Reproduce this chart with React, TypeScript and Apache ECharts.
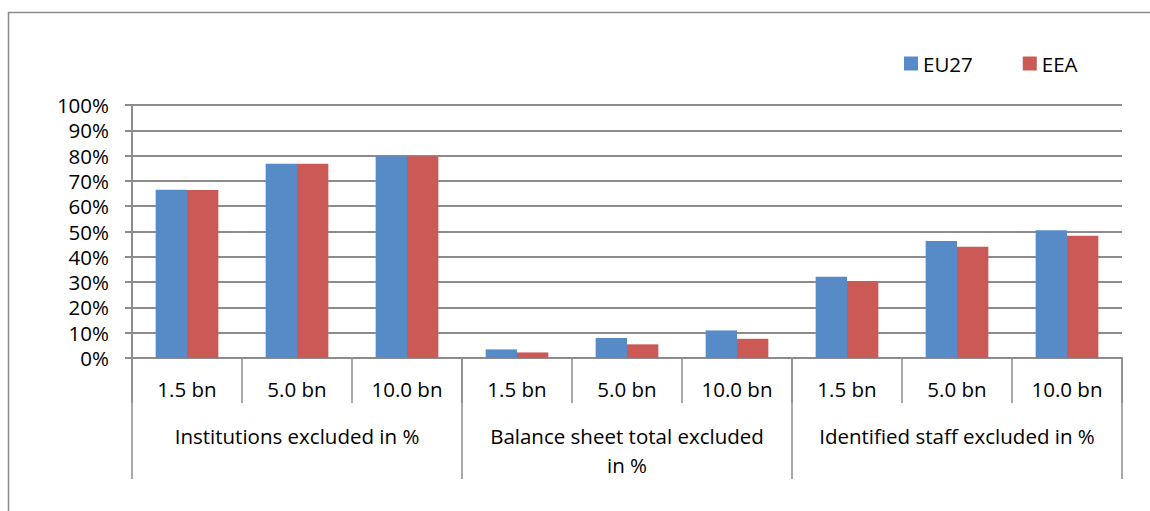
import React, { useEffect, useRef } from "react";
import * as echarts from "echarts";

const subCategories = [
  "1.5 bn", "5.0 bn", "10.0 bn",
  "1.5 bn", "5.0 bn", "10.0 bn",
  "1.5 bn", "5.0 bn", "10.0 bn",
];
const groupCategories = [
  "Institutions excluded in %",
  "Balance sheet total excluded\nin %",
  "Identified staff excluded in %",
];
const seriesNames = ["EU27", "EEA"];
const eu27Values = [66.5, 76.8, 79.7, 3.4, 7.9, 10.9, 32.1, 46.2, 50.5];
const eeaValues = [66.4, 76.8, 79.7, 2.2, 5.4, 7.6, 30.4, 44.0, 48.3];
const yTicks = { min: 0, max: 100, interval: 10 };

const FONT = "'Open Sans', 'Noto Sans', sans-serif";
const FS = 20.5;
const GRAY = "#8c8c8c";

export default function App() {
  const ref = useRef<HTMLDivElement>(null);
  useEffect(() => {
    document.body.style.margin = "0";
    const chart = echarts.init(ref.current!, undefined, { renderer: "svg" });
    chart.setOption({
      animation: false,
      textStyle: { fontFamily: FONT, color: "#000" },
      graphic: [
        {
          type: "rect",
          shape: { x: 8.5, y: 12.5, width: 1160, height: 520 },
          style: { fill: "none", stroke: "#8a8a8a", lineWidth: 1.5 },
          silent: true,
          z: -10,
        },
      ],
      legend: {
        left: 899,
        top: 48,
        itemWidth: 14,
        itemHeight: 14,
        itemGap: 50,
        icon: "rect",
        textStyle: { fontFamily: FONT, fontSize: FS, color: "#000" },
        data: seriesNames,
      },
      grid: { left: 132, right: 28, top: 105, bottom: 153 },
      xAxis: [
        {
          type: "category",
          data: subCategories,
          position: "bottom",
          axisLine: { show: true, lineStyle: { color: GRAY, width: 2 } },
          axisTick: {
            show: true,
            alignWithLabel: false,
            interval: 0,
            length: 45,
            lineStyle: { color: GRAY, width: 1.5 },
          },
          axisLabel: {
            interval: 0,
            margin: 20,
            fontFamily: FONT,
            fontSize: FS,
            color: "#000",
          },
        },
        {
          type: "category",
          data: groupCategories,
          position: "bottom",
          axisLine: { show: false },
          axisTick: {
            show: true,
            interval: 0,
            length: 121,
            lineStyle: { color: GRAY, width: 1.5 },
          },
          axisLabel: {
            interval: 0,
            margin: 63,
            fontFamily: FONT,
            fontSize: FS,
            lineHeight: 29,
            color: "#000",
            align: "center",
            verticalAlign: "top",
          },
        },
      ],
      yAxis: {
        type: "value",
        min: yTicks.min,
        max: yTicks.max,
        interval: yTicks.interval,
        axisLine: { show: true, lineStyle: { color: GRAY, width: 2 } },
        axisTick: { show: true, length: 7, lineStyle: { color: GRAY, width: 2 } },
        axisLabel: {
          formatter: "{value}%",
          margin: 23,
          fontFamily: FONT,
          fontSize: FS,
          color: "#000",
        },
        splitLine: { show: true, lineStyle: { color: GRAY, width: 2 } },
      },
      series: [
        {
          name: seriesNames[0],
          type: "bar",
          xAxisIndex: 0,
          data: eu27Values,
          barGap: "0%",
          barCategoryGap: "43%",
          itemStyle: { color: "#568bc7" },
        },
        {
          name: seriesNames[1],
          type: "bar",
          xAxisIndex: 0,
          data: eeaValues,
          barGap: "0%",
          barCategoryGap: "43%",
          itemStyle: { color: "#cb5a57" },
        },
      ],
    });
    return () => chart.dispose();
  }, []);
  return <div ref={ref} style={{ width: 1150, height: 511 }} />;
}
